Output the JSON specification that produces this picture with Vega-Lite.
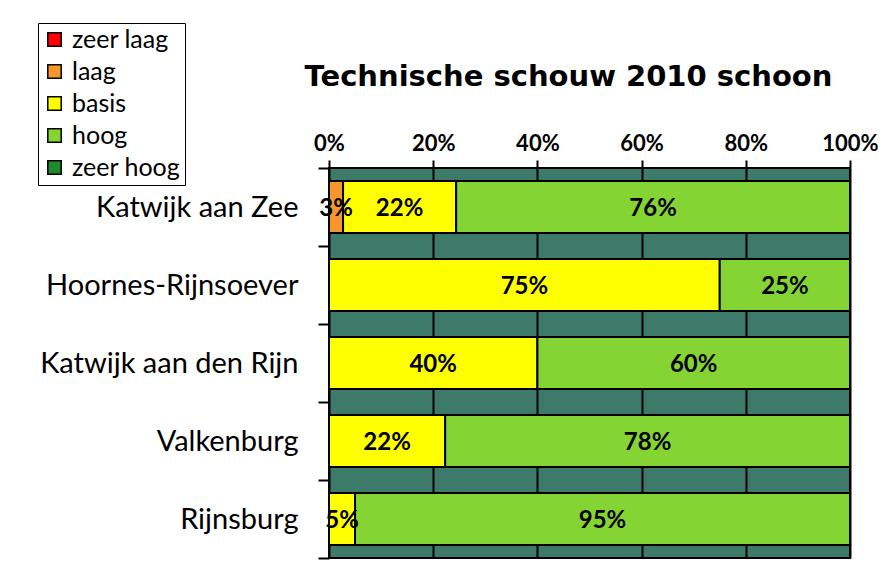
{
  "$schema": "https://vega.github.io/schema/vega-lite/v6.json",
  "width": 521,
  "height": 390,
  "autosize": {"type": "none"},
  "padding": {"left": 329, "top": 168, "right": 33, "bottom": 11},
  "background": "white",
  "title": {
    "text": "Technische schouw 2010 schoon",
    "font": "DejaVu Sans",
    "fontSize": 29,
    "fontWeight": "bold",
    "color": "black",
    "anchor": "middle",
    "dx": -21,
    "offset": 0,
    "dy": 69
  },
  "config": {
    "view": {"fill": "#3E7A6A", "stroke": "black", "strokeWidth": 2},
    "font": "Lato"
  },
  "data": {
    "values": [
      {"gemeente": "Katwijk aan Zee", "categorie": "laag", "waarde": 0.027},
      {"gemeente": "Katwijk aan Zee", "categorie": "basis", "waarde": 0.217},
      {"gemeente": "Katwijk aan Zee", "categorie": "hoog", "waarde": 0.756},
      {"gemeente": "Hoornes-Rijnsoever", "categorie": "basis", "waarde": 0.75},
      {"gemeente": "Hoornes-Rijnsoever", "categorie": "hoog", "waarde": 0.25},
      {"gemeente": "Katwijk aan den Rijn", "categorie": "basis", "waarde": 0.40},
      {"gemeente": "Katwijk aan den Rijn", "categorie": "hoog", "waarde": 0.60},
      {"gemeente": "Valkenburg", "categorie": "basis", "waarde": 0.223},
      {"gemeente": "Valkenburg", "categorie": "hoog", "waarde": 0.777},
      {"gemeente": "Rijnsburg", "categorie": "basis", "waarde": 0.05},
      {"gemeente": "Rijnsburg", "categorie": "hoog", "waarde": 0.95}
    ]
  },
  "transform": [
    {"stack": "waarde", "groupby": ["gemeente"], "as": ["v0", "v1"]}
  ],
  "encoding": {
    "y": {
      "field": "gemeente",
      "type": "nominal",
      "sort": ["Katwijk aan Zee", "Hoornes-Rijnsoever", "Katwijk aan den Rijn", "Valkenburg", "Rijnsburg"],
      "scale": {"paddingInner": 0, "paddingOuter": 0},
      "axis": {
        "title": null,
        "tickBand": "extent",
        "tickColor": "black",
        "tickWidth": 2,
        "tickSize": 11,
        "domain": false,
        "labelFont": "Lato",
        "labelFontSize": 29,
        "labelColor": "black",
        "labelPadding": 20,
        "labelLimit": 400,
        "grid": false
      }
    }
  },
  "layer": [
    {
      "mark": {"type": "bar", "height": {"band": 0.667}, "stroke": "black", "strokeWidth": 2},
      "encoding": {
        "x": {
          "field": "v0",
          "type": "quantitative",
          "scale": {"domain": [0, 1], "nice": false},
          "axis": {
            "orient": "top",
            "title": null,
            "values": [0, 0.2, 0.4, 0.6, 0.8, 1],
            "format": ".0%",
            "grid": true,
            "gridColor": "black",
            "gridWidth": 2,
            "gridOpacity": 1,
            "tickColor": "black",
            "tickWidth": 2,
            "tickSize": 8,
            "domain": false,
            "labelFlush": false,
            "labelFont": "Lato",
            "labelFontSize": 22,
            "labelFontWeight": "bold",
            "labelColor": "black",
            "labelPadding": 5
          }
        },
        "x2": {"field": "v1"},
        "color": {
          "field": "categorie",
          "type": "nominal",
          "scale": {
            "domain": ["zeer laag", "laag", "basis", "hoog", "zeer hoog"],
            "range": ["#FF0000", "#F7962E", "#FFFF00", "#84D434", "#21882E"]
          },
          "legend": {
            "title": null,
            "orient": "none",
            "legendX": -291,
            "legendY": -145,
            "symbolType": "square",
            "symbolSize": 180,
            "symbolStrokeColor": "black",
            "symbolStrokeWidth": 1.5,
            "symbolOpacity": 1,
            "labelFont": "Lato",
            "labelFontSize": 25,
            "labelColor": "black",
            "rowPadding": 6,
            "padding": 4,
            "strokeColor": "black",
            "fillColor": "white",
            "labelOffset": 5
          }
        }
      }
    },
    {
      "transform": [
        {"fold": ["v0", "v1"], "as": ["rand", "pos"]},
        {"aggregate": [{"op": "mean", "field": "pos", "as": "midden"}], "groupby": ["gemeente", "categorie", "waarde"]}
      ],
      "mark": {"type": "text", "font": "Lato", "fontSize": 24, "fontWeight": "bold", "color": "black", "baseline": "middle", "align": "center", "dy": 2},
      "encoding": {
        "x": {"field": "midden", "type": "quantitative"},
        "text": {"field": "waarde", "type": "quantitative", "format": ".0%"}
      }
    }
  ]
}
